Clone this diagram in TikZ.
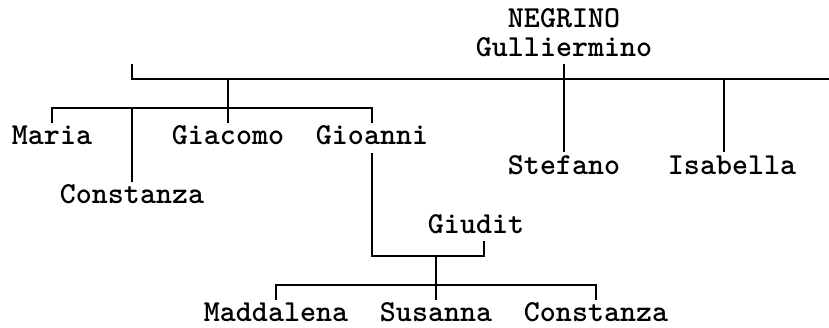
\documentclass[tikz,border=0pt]{standalone}
\usepackage{fontspec}

\begin{document}
\begin{tikzpicture}[x=0.75pt,y=-0.75pt]
    \useasboundingbox (0,0) rectangle (829,328);
    \tikzstyle{nom}=[font=\ttfamily\bfseries\fontsize{22.86}{28}\selectfont,
        inner sep=0pt,minimum height=22.09pt,text height=13pt,text depth=2.2pt]
    \tikzstyle{lien}=[-,line width=1.4pt]

    %%%%%%%%%%%%%%%%%%%%%%%%%%%%%%%%%%%%%% Noms
    \node[nom] (neg) at (564,20) {NEGRINO};
    \node[nom] (gul) at (564,49.45) {Gulliermino};
    \node[nom] (mar) at (52,137.8) {Maria};
    \node[nom] (gia) at (228,137.8) {Giacomo};
    \node[nom] (gio) at (372,137.8) {Gioanni};
    \node[nom] (ste) at (564,167.25) {Stefano};
    \node[nom] (isa) at (732,167.25) {Isabella};
    \node[nom] (con1) at (132,196.7) {Constanza};
    \node[nom] (giu) at (476,226.15) {Giudit};
    \node[nom] (mad) at (276,314.5) {Maddalena};
    \node[nom] (sus) at (436,314.5) {Susanna};
    \node[nom] (con2) at (596,314.5) {Constanza};

    %%%%%%%%%%%%%%%%%%%%%%%%%%%%%%%%%%%%%% Lignes
    \coordinate (h1) at (132,78.9);
    \coordinate (h1t) at (132,64.2);
    \coordinate (h1d) at (829,78.9);
    \coordinate (f1) at (228,78.9);
    \coordinate (f2) at (724,78.9);
    \coordinate (m1) at (132,108.35);
    \coordinate (b1) at (372,255.6);
    \coordinate (b2) at (484,255.6);
    \coordinate (b3) at (436,255.6);

    \draw[lien] (h1t)--(h1)--(h1d);
    \draw[lien] (gul.south)--(ste.north);
    \draw[lien] (f2)--(f2|-isa.north);
    \draw[lien] (f1)--(gia.north);
    \draw[lien] (mar.north)|-(m1)-|(gio.north);
    \draw[lien] (m1)--(con1.north);
    \draw[lien] (gio.south)--(b1)--(b2)--(b2|-giu.south);
    \draw[lien] (b3)--(sus.north);
    \draw[lien] (mad.north)|-(sus.north|-0,285.05)-|(con2.north);
\end{tikzpicture}
\end{document}
